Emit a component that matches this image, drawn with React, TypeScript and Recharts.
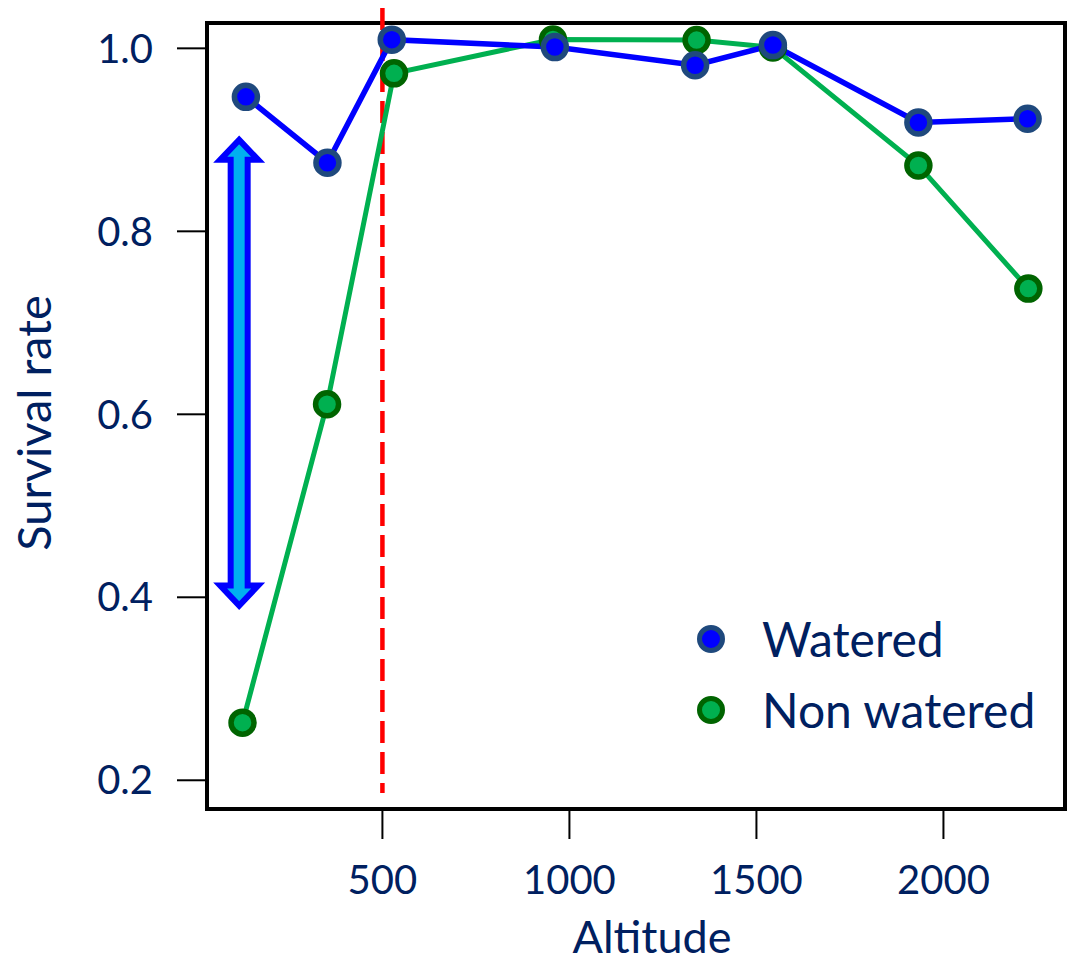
import {
  ComposedChart, Line, XAxis, YAxis, Label,
  ReferenceArea, ReferenceLine,
} from "recharts"

const altitudeTicks = [500, 1000, 1500, 2000]
const rateTicks = [0.2, 0.4, 0.6, 0.8, 1.0]
const altitudeDomain = [31, 2325]
const rateDomain = [0.1686, 1.0277]

const wateredAltitude = [135, 353, 525, 961, 1336, 1544, 1933, 2225]
const wateredRate = [0.947, 0.875, 1.0095, 1.0014, 0.9815, 1.0036, 0.919, 0.923]

const nonWateredAltitude = [126, 352, 531, 956, 1340, 1544, 1933, 2227]
const nonWateredRate = [0.263, 0.611, 0.9727, 1.0097, 1.009, 1.001, 0.872, 0.7374]

// dashed threshold at 500 m, and the double arrow showing the gap at low altitude
const thresholdAltitude = 500
const thresholdRange = [1.044, 0.186]
const arrowAltitude = 117
const arrowRange = [0.9, 0.391]

const watered = wateredAltitude.map((altitude, i) => ({ altitude, rate: wateredRate[i] }))
const nonWatered = nonWateredAltitude.map((altitude, i) => ({ altitude, rate: nonWateredRate[i] }))

const FONT = "Lato, 'Open Sans', sans-serif"
const NAVY = "#002060"

const legendItems = [
  { name: "Watered", fill: "#0000ff", stroke: "#1f497d" },
  { name: "Non watered", fill: "#00b050", stroke: "#006400" },
]

function DoubleArrow(props: any) {
  const { x1, y1, x2, y2 } = props
  if (x1 == null || y1 == null) return null
  const x = (x1 + x2) / 2
  const top = Math.min(y1, y2)
  const bottom = Math.max(y1, y2)
  const head = 20
  const hw = 19
  const sw = 8.5
  const pts = [
    [x, top], [x + hw, top + head], [x + sw, top + head],
    [x + sw, bottom - head], [x + hw, bottom - head], [x, bottom],
    [x - hw, bottom - head], [x - sw, bottom - head],
    [x - sw, top + head], [x - hw, top + head],
  ].map((p) => p.join(",")).join(" ")
  return <polygon points={pts} fill="#00b0f0" stroke="#0000ff" strokeWidth={6} strokeLinejoin="miter" />
}

function YTitle({ viewBox }: any) {
  const cx = viewBox.x + 51
  const cy = viewBox.y + viewBox.height / 2 + 7
  return (
    <text x={cx} y={cy} transform={`rotate(-90 ${cx} ${cy})`} textAnchor="middle"
      fill={NAVY} fontFamily={FONT} fontSize={47}>
      Survival rate
    </text>
  )
}

function LegendBox() {
  return (
    <div style={{
      position: "absolute", left: 696, top: 603, width: 370,
      fontFamily: FONT, color: NAVY, fontSize: 48,
    }}>
      {legendItems.map((it) => (
        <div key={it.name} style={{ display: "flex", alignItems: "center", height: 71 }}>
          <svg width={30} height={30}>
            <circle cx={15} cy={15} r={11.5} fill={it.fill} stroke={it.stroke} strokeWidth={5} />
          </svg>
          <span style={{ marginLeft: 36, whiteSpace: "nowrap" }}>{it.name}</span>
        </div>
      ))}
    </div>
  )
}

export default function App() {
  return (
    <div style={{ position: "absolute", left: 0, top: 0, width: 1070, height: 965, background: "#fff" }}>
      <ComposedChart width={1070} height={965} margin={{ top: 23, right: 5, bottom: 0, left: 0 }}>
        <XAxis
          type="number"
          dataKey="altitude"
          domain={altitudeDomain}
          allowDataOverflow
          ticks={altitudeTicks}
          height={156}
          tickSize={30}
          tickMargin={27}
          axisLine={false}
          tickLine={{ stroke: "#000", strokeWidth: 2 }}
          tick={{ fill: NAVY, fontSize: 40, fontFamily: FONT }}
        >
          <Label value="Altitude" position="insideBottom" offset={12} dx={16}
            fill={NAVY} fontSize={45} fontFamily={FONT} />
        </XAxis>
        <YAxis
          type="number"
          dataKey="rate"
          domain={rateDomain}
          allowDataOverflow
          ticks={rateTicks}
          width={207}
          tickSize={30}
          tickMargin={24}
          axisLine={false}
          tickLine={{ stroke: "#000", strokeWidth: 2 }}
          tick={{ fill: NAVY, fontSize: 40, fontFamily: FONT }}
          tickFormatter={(v: number) => v.toFixed(1)}
        >
          <Label content={<YTitle />} />
        </YAxis>
        <ReferenceLine
          segment={[
            { x: thresholdAltitude, y: thresholdRange[0] },
            { x: thresholdAltitude, y: thresholdRange[1] },
          ]}
          ifOverflow="visible"
          stroke="#ff0000"
          strokeWidth={4.5}
          strokeDasharray="22 9"
        />
        <ReferenceLine
          segment={[
            { x: arrowAltitude, y: arrowRange[0] },
            { x: arrowAltitude, y: arrowRange[1] },
          ]}
          ifOverflow="visible"
          shape={(p: any) => <DoubleArrow {...p} />}
        />
        <Line
          data={nonWatered}
          dataKey="rate"
          name="Non watered"
          stroke="#00b050"
          strokeWidth={5}
          dot={{ r: 11.5, fill: "#00b050", stroke: "#006400", strokeWidth: 5.5 }}
          activeDot={false}
          isAnimationActive={false}
        />
        <Line
          data={watered}
          dataKey="rate"
          name="Watered"
          stroke="#0000ff"
          strokeWidth={5.5}
          dot={{ r: 11.5, fill: "#0000ff", stroke: "#1f497d", strokeWidth: 5.5 }}
          activeDot={false}
          isAnimationActive={false}
        />
        <ReferenceArea
          x1={altitudeDomain[0]} x2={altitudeDomain[1]}
          y1={rateDomain[0]} y2={rateDomain[1]}
          fill="none" fillOpacity={0} stroke="#000" strokeWidth={4} strokeOpacity={1}
          ifOverflow="visible"
        />
      </ComposedChart>
      <LegendBox />
    </div>
  )
}
